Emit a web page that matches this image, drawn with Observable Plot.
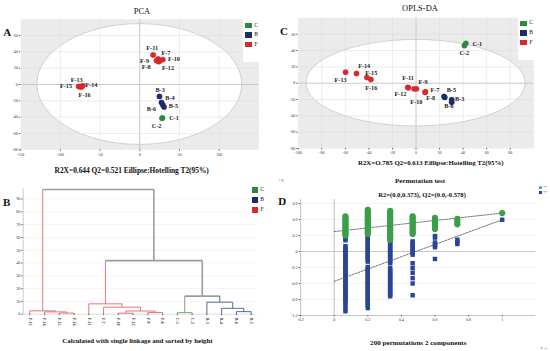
<!DOCTYPE html>
<html><head><meta charset="utf-8">
<script src="https://cdn.jsdelivr.net/npm/d3@7"></script>
<script src="https://cdn.jsdelivr.net/npm/@observablehq/plot@0.6"></script>
<style>
body{margin:0;background:#fff;}
#fig{position:relative;width:550px;height:351px;overflow:hidden;font-family:"Liberation Serif","Times New Roman",serif;color:#111;}
.abs{position:absolute;white-space:nowrap;line-height:1;}
.panel{position:absolute;}
</style></head><body><div id="fig"></div>
<script>
// ---------- DATA ----------
const groups = ["C", "B", "F"];
const sampleNames = ["F-7","F-8","F-9","F-10","F-11","F-12","F-13","F-14","F-15","F-16","B-3","B-4","B-5","B-6","C-1","C-2"];

// PCA scores (t1, t2) and label anchors
const pcaX = [23, 23.5, 21, 29, 16.8, 25.2, -77, -72, -75, -73.5, 24.8, 27.3, 30.6, 29, 28.5, 28];
const pcaY = [31.3, 28, 29.3, 30.5, 36.2, 28.8, -2.4, -1.6, -2.8, -3.2, -14.6, -22, -27.7, -25.2, -41, -41.5];
const pcaLabelX = [33, 8, 6, 43, 15.6, 35.5, -79.5, -61, -93, -69.5, 25.6, 38, 42.4, 14.7, 43, 21];
const pcaLabelY = [38, 21, 29, 31, 44.3, 20, 5.7, -1.2, -2.4, -13.4, -7.3, -16.7, -26.8, -29.6, -41, -51];
const pcaEllipse = [129, 74];

// OPLS-DA scores and label anchors
const oplsX = [8, 7.7, -1.6, 0.4, -7, -6.5, -59.8, -50.5, -41.7, -38.3, 30.3, 30.3, 23.8, 24.4, 42.3, 41.1];
const oplsY = [-10.5, -11.3, -6.9, -6.9, -5.2, -5.5, 13.4, 11.8, 7, 4.5, -20.2, -23.4, -16.2, -17.4, 48.8, 46];
const oplsLabelX = [16, 12.5, 6, 0.3, -6.8, -13.2, -64, -44, -38, -38, 37, null, 30, 28, 52, 41];
const oplsLabelY = [-8, -17.8, 0.9, -23.5, 6.6, -13.8, 3.3, 21, 13, -5.6, -19, null, -8, -28, 48, 36.6];
const oplsEllipse = [93, 53];

// Dendrogram (single linkage): leaves in plotted order, merges [childA, childB, height]
const leaves = ["F-13","F-14","F-15","F-16","F-11","F-7","F-10","F-12","F-9","F-8","C-1","C-2","B-3","B-4","B-6","B-5"];
const merges = [
  [2, 3, 0.9], [1, 16, 1.8], [0, 17, 2.6],
  [6, 7, 0.8], [8, 9, 1.3], [19, 20, 2.5], [5, 21, 5.5], [4, 22, 8.1],
  [10, 11, 1.2],
  [14, 15, 2.0], [13, 25, 4.6], [12, 26, 9.4],
  [24, 27, 14.1], [23, 28, 41.9], [18, 29, 97.4]
];
const dendroTicks = [0, 10, 20, 30, 40, 50, 60, 70, 80, 90];

// Permutation test
const permCorr = [0.067, 0.2, 0.333, 0.467, 0.6, 0.733, 1];
const r2Perm = [
  [0.66,0.63,0.60,0.57,0.54,0.51,0.48,0.45,0.42,0.39,0.36,0.33,0.30],
  [0.78,0.75,0.72,0.69,0.66,0.63,0.60,0.57,0.54,0.51,0.48,0.45,0.42,0.39,0.36,0.33],
  [0.76,0.73,0.70,0.67,0.64,0.61,0.58,0.55,0.52,0.49,0.46,0.43,0.40,0.37,0.34,0.31,0.28,0.25,0.22],
  [0.66,0.63,0.60,0.57,0.54,0.51,0.48,0.45,0.42,0.39,0.36,0.33],
  [0.63,0.60,0.57,0.54,0.51,0.48,0.45,0.42],
  [0.61,0.56,0.51],
  [0.72]
];
const q2Perm = [
  [0.27,0.24,0.21,0.10,0.07,0.04,0.01,-0.02,-0.05,-0.08,-0.11,-0.14,-0.17,-0.20,-0.23,-0.26,-0.29,-0.32,-0.35,-0.38,-0.41,-0.44,-0.47,-0.50,-0.53,-0.56,-0.59,-0.62,-0.65,-0.68,-0.71,-0.74,-0.77,-0.80,-0.83,-0.86,-0.89,-0.92,-0.96,-1.01,-1.07,-1.12],
  [0.38,0.35,0.32,0.29,0.26,0.23,0.20,0.17,0.14,0.11,0.08,0.05,0.02,-0.01,-0.04,-0.07,-0.10,-0.13,-0.16,-0.19,-0.29,-0.32,-0.35,-0.38,-0.41,-0.44,-0.47,-0.50,-0.53,-0.56,-0.59,-0.62,-0.65,-0.68,-0.71,-0.74,-0.77,-0.80,-0.83,-0.86,-0.89,-0.92,-0.95,-0.98,-1.02,-1.06],
  [0.44,0.41,0.38,0.35,0.32,0.29,0.26,0.23,0.20,0.17,0.14,0.11,0.08,0.05,0.02,-0.01,-0.04,-0.07,-0.10,-0.13,-0.16,-0.19,-0.22,-0.31,-0.34,-0.37,-0.40,-0.43,-0.46,-0.49,-0.52,-0.55,-0.58,-0.61,-0.64,-0.67,-0.70,-0.73,-0.76,-0.79,-0.82,-0.84],
  [0.19,0.16,0.13,0.10,0.07,0.04,0.01,-0.02,-0.06,-0.22,-0.31,-0.40,-0.50,-0.60,-0.82],
  [0.29,0.26,0.17,0.14,0.11,0.08,-0.14],
  [0.22,0.18,0.14],
  [0.595]
];
const r2Line = [[0, 0.373], [1, 0.72]];
const q2Line = [[0, -0.56], [1, 0.595]];
const permXTicks = [-0.2, 0, 0.2, 0.4, 0.6, 0.8, 1];
const permYTicks = [-1.2, -0.9, -0.6, -0.3, 0, 0.3, 0.6, 0.9];

// ---------- STYLE ----------
const groupColor = {C: "#2a8a3d", B: "#1b2d66", F: "#d8282d"};
const dendroColor = {C: "#5aa46a", B: "#3f5d8e", F: "#e26868", mixed: "#9c9c9c"};
const serif = "Liberation Serif";
const fig = document.getElementById("fig");
const hy = d => String(d);

function txt(s, cx, cy, size, bold) {
  const d = document.createElement("div");
  d.className = "abs"; d.textContent = s;
  d.style.fontSize = size + "px"; d.style.fontWeight = bold ? "bold" : "normal";
  d.style.left = cx + "px"; d.style.top = cy + "px";
  d.style.transform = "translate(-50%,-50%)";
  fig.appendChild(d);
}
function box(left, top, w, h, bg, extra) {
  const d = document.createElement("div");
  d.className = "abs";
  Object.assign(d.style, {left: left + "px", top: top + "px", width: w + "px", height: h + "px", background: bg}, extra || {});
  fig.appendChild(d);
  return d;
}
function put(svg, left, top) {
  svg.classList.add("panel");
  svg.style.left = left + "px"; svg.style.top = top + "px";
  fig.appendChild(svg);
}
function ellipseMark(rx, ry) {
  return (index, scales) => {
    const e = document.createElementNS("http://www.w3.org/2000/svg", "ellipse");
    const x0 = scales.x(0), y0 = scales.y(0);
    e.setAttribute("cx", x0); e.setAttribute("cy", y0);
    e.setAttribute("rx", Math.abs(scales.x(rx) - x0));
    e.setAttribute("ry", Math.abs(scales.y(ry) - y0));
    e.setAttribute("fill", "#ffffff"); e.setAttribute("stroke", "#cdcdcd"); e.setAttribute("stroke-width", 0.9);
    return e;
  };
}

// ---------- SCORE PLOTS ----------
function scorePlot(xs, ys, lxs, lys, ell, xDom, xTicks, m) {
  const pts = sampleNames.map((n, i) => ({n, g: n[0], x: xs[i], y: ys[i], lx: lxs[i], ly: lys[i]}));
  const yTicks = [-80, -60, -40, -20, 0, 20, 40, 60];
  return Plot.plot({
    width: 275, height: 175,
    marginLeft: m[0], marginRight: m[1], marginTop: m[2], marginBottom: m[3],
    style: {fontFamily: serif, fontSize: "4px", background: "none", overflow: "visible"},
    x: {domain: xDom}, y: {domain: [-80, 80]},
    marks: [
      Plot.frame({fill: "#ebebeb", stroke: "none"}),
      ellipseMark(ell[0], ell[1]),
      Plot.ruleX(xTicks.filter(t => t !== 0 && t !== xDom[0]), {stroke: "#dadada", strokeWidth: 0.5}),
      Plot.ruleY(yTicks.filter(t => t !== 0 && t !== -80), {stroke: "#dadada", strokeWidth: 0.5}),
      Plot.ruleX([0], {stroke: "#c4c4c4", strokeWidth: 0.9}),
      Plot.ruleY([0], {stroke: "#c4c4c4", strokeWidth: 0.9}),
      Plot.axisX({ticks: xTicks, tickFormat: hy, tickSize: 1.5, tickPadding: 1.5, fontSize: 4, stroke: "#666", fill: "#333"}),
      Plot.axisY({ticks: yTicks, tickFormat: hy, tickSize: 1.5, tickPadding: 1.5, fontSize: 4, stroke: "#666", fill: "#333"}),
      Plot.dot(pts, {x: "x", y: "y", r: 2.7, fill: d => groupColor[d.g], stroke: d => groupColor[d.g], strokeWidth: 0.3}),
      Plot.text(pts.filter(d => d.lx != null), {x: "lx", y: "ly", text: "n", fontSize: 6.2, fontWeight: "bold", fill: "#1a1a1a", fontFamily: serif})
    ]
  });
}
put(scorePlot(pcaX, pcaY, pcaLabelX, pcaLabelY, pcaEllipse, [-150, 150], [-150, -100, -50, 0, 50, 100], [20.2, 16.6, 18.7, 25.7]), 0, 0);
put(scorePlot(oplsX, oplsY, oplsLabelX, oplsLabelY, oplsEllipse, [-100, 100], [-100, -80, -60, -40, -20, 0, 20, 40, 60, 80], [22.7, 16.7, 17.4, 27]), 275, 0);

// ---------- DENDROGRAM ----------
const nodes = leaves.map((n, i) => ({x: i + 1, h: 0, g: n[0]}));
merges.forEach(([a, b, h]) => {
  const A = nodes[a], B = nodes[b];
  nodes.push({x: (A.x + B.x) / 2, h, g: A.g === B.g ? A.g : "mixed", a: A, b: B});
});
const segs = [];
nodes.forEach(nd => {
  if (!nd.a) return;
  const c = dendroColor[nd.g], w = nd.g === "mixed" ? 1.6 : 0.9;
  segs.push({x1: nd.a.x, y1: nd.h, x2: nd.b.x, y2: nd.h, c, w});
  [nd.a, nd.b].forEach(ch => segs.push({x1: ch.x, y1: ch.h, x2: ch.x, y2: nd.h, c: dendroColor[ch.g], w: ch.g === "mixed" ? 1.6 : 0.9}));
});
put(Plot.plot({
  width: 275, height: 176,
  marginLeft: 22.7, marginRight: 18.3, marginTop: 13.3, marginBottom: 37.3,
  style: {fontFamily: serif, fontSize: "4px", background: "none", overflow: "visible"},
  x: {domain: [0.553, 16.41]}, y: {domain: [0, 98]},
  marks: [
    Plot.ruleY(dendroTicks.filter(t => t > 0), {stroke: "#ececec", strokeWidth: 0.6}),
    Plot.ruleY([0], {stroke: "#bbb", strokeWidth: 0.5}),
    Plot.ruleX([0.553], {stroke: "#999", strokeWidth: 0.5}),
    Plot.axisY({ticks: dendroTicks, tickFormat: hy, tickSize: 1.5, tickPadding: 1.5, fontSize: 4, stroke: "#666", fill: "#333"}),
    Plot.axisX({ticks: d3.range(1, 17), tickFormat: i => leaves[i - 1], tickRotate: 90, tickSize: 1.5, tickPadding: 2, fontSize: 4, fontWeight: "bold", stroke: "#666", fill: "#333"}),
    Plot.link(segs, {x1: "x1", y1: "y1", x2: "x2", y2: "y2", stroke: d => d.c, strokeWidth: d => d.w})
  ]
}), 0, 175);

// ---------- PERMUTATION TEST ----------
const r2Pts = [], q2Pts = [];
permCorr.forEach((c, i) => {
  r2Perm[i].forEach(v => r2Pts.push({x: c, y: v}));
  q2Perm[i].forEach(v => q2Pts.push({x: c, y: v}));
});
put(Plot.plot({
  width: 275, height: 176,
  marginLeft: 25.1, marginRight: 14.7, marginTop: 24, marginBottom: 36,
  style: {fontFamily: serif, fontSize: "4px", background: "none", overflow: "visible"},
  x: {domain: [-0.2, 1.2]}, y: {domain: [-1.2, 0.975]},
  marks: [
    Plot.ruleY(permYTicks.filter(t => t !== 0 && t !== -1.2), {stroke: "#ececec", strokeWidth: 0.6}),
    Plot.ruleX([0], {stroke: "#c8c8c8", strokeWidth: 1.2}),
    Plot.ruleY([0], {stroke: "#c8c8c8", strokeWidth: 1.2}),
    Plot.ruleX([-0.2], {stroke: "#888", strokeWidth: 0.5}),
    Plot.ruleY([-1.2], {stroke: "#888", strokeWidth: 0.5}),
    Plot.axisX({ticks: permXTicks, tickFormat: hy, tickSize: 1.5, tickPadding: 1.5, fontSize: 4, stroke: "#666", fill: "#333"}),
    Plot.axisY({ticks: permYTicks, tickFormat: hy, tickSize: 1.5, tickPadding: 1.5, fontSize: 4, stroke: "#666", fill: "#333"}),
    Plot.line(q2Line, {x: d => d[0], y: d => d[1], stroke: "#555", strokeWidth: 0.8, strokeDasharray: "2,1.2"}),
    Plot.line(r2Line, {x: d => d[0], y: d => d[1], stroke: "#555", strokeWidth: 0.8, strokeDasharray: "2,1.2"}),
    Plot.dot(q2Pts, {x: "x", y: "y", symbol: "square", r: 2.5, fill: "#2b4596"}),
    Plot.dot(r2Pts, {x: "x", y: "y", r: 3.1, fill: "#3a9f48"})
  ]
}), 275, 175);

// ---------- TEXT & LEGENDS ----------
txt("PCA", 142, 10.5, 8.5, false);
txt("OPLS-DA", 420, 7.5, 8.5, false);
txt("R2X=0.644 Q2=0.521 Eillipse:Hotelling T2(95%)", 131.7, 171.3, 7.4, true);
txt("R2X=O.785 Q2=0.613 Eillipse:Hotelling T2(95%)", 430.8, 163.3, 6.9, true);
txt("Calculated with single linkage and sorted by height", 137.5, 340.7, 6.9, true);
txt("Permutation test", 420, 181.3, 7, true);
txt("R2=(0.0,0.373), Q2=(0.0,-0.578)", 422, 195, 6.6, true);
txt("200 permutations 2 components", 418.3, 344, 7.1, true);
txt("A", 7.3, 32.3, 11, true);
txt("C", 284, 30.7, 11, true);
txt("B", 6.7, 201.7, 11, true);
txt("D", 282.3, 201, 11, true);

function groupLegend(bx, by, sqx, tx, step, withBox) {
  if (withBox) box(bx, by, 21, 43, "#fff");
  groups.forEach((g, i) => {
    const cy = by + 6.7 + i * step;
    box(sqx - 3.3, cy - 2.8, 6.6, 5.6, groupColor[g]);
    txt(g, tx, cy, 5.6, false);
  });
}
groupLegend(243, 19, 248.3, 256, 9.5, true);
groupLegend(518, 16.6, 523.3, 531, 9.7, true);
groupLegend(250, 183.3, 255, 262, 10, false);

box(539, 185.6, 3.4, 3.4, "#3a9f48", {borderRadius: "50%"});
txt("R2", 545, 187.3, 2.8, false);
box(539, 190.6, 3.2, 3.2, "#2b4596");
txt("Q2", 545, 192.3, 2.8, false);
</script></body></html>
